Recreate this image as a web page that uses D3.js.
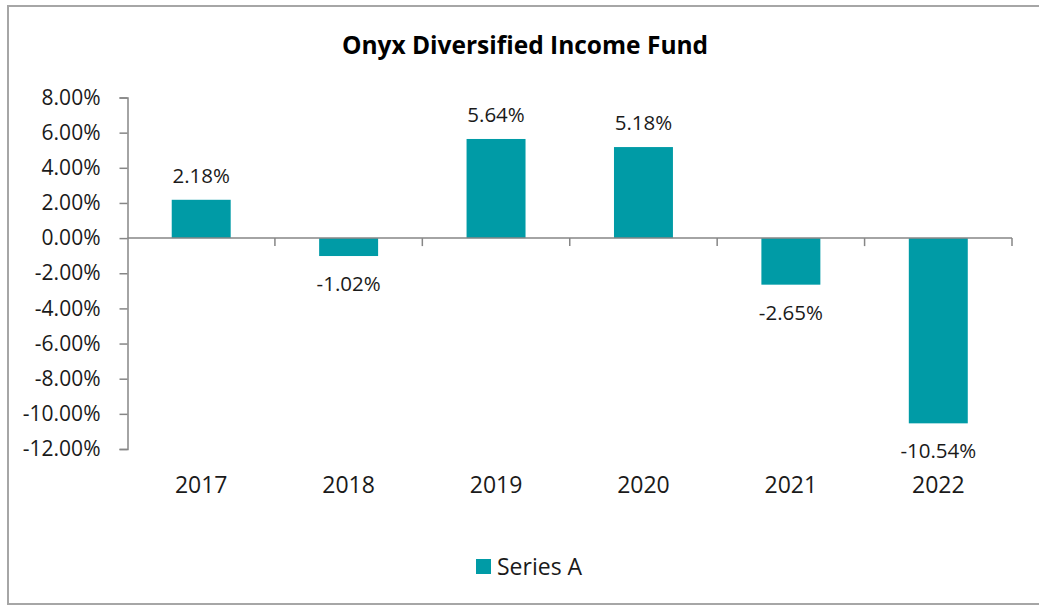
<!DOCTYPE html>
<html>
<head>
<meta charset="utf-8">
<script src="https://cdn.jsdelivr.net/npm/d3@7/dist/d3.min.js"></script>
<style>
  html, body { margin: 0; padding: 0; background: #fff; }
  svg { display: block; font-family: 'Open Sans', sans-serif; }
</style>
</head>
<body>
<svg id="chart" width="1039" height="606"></svg>
<script>
var title = 'Onyx Diversified Income Fund';
var seriesName = 'Series A';
var years = ['2017', '2018', '2019', '2020', '2021', '2022'];
var returns = [2.18, -1.02, 5.64, 5.18, -2.65, -10.54];
var yTicks = [8, 6, 4, 2, 0, -2, -4, -6, -8, -10, -12];

(function () {
  var svg = d3.select('#chart');
  var teal = '#009ba6';
  var axisColor = '#868686';
  var pct = function (d) { return d.toFixed(2) + '%'; };

  // outer frame (right edge runs off the picture)
  svg.append('rect')
    .attr('x', 8).attr('y', 6)
    .attr('width', 1040).attr('height', 598)
    .attr('fill', 'none')
    .attr('stroke', '#a6a6a6')
    .attr('stroke-width', 2);

  svg.append('text')
    .attr('x', 525).attr('y', 54)
    .attr('text-anchor', 'middle')
    .attr('font-weight', 'bold')
    .attr('font-size', 24.5)
    .attr('fill', '#000')
    .text(title);

  var x = d3.scaleBand().domain(years).range([127.5, 1012]).paddingInner(0).paddingOuter(0);
  var y = d3.scaleLinear().domain([-12, 8]).range([449, 97.5]);

  var g = svg.append('g');

  // bars
  g.append('g').selectAll('rect').data(returns).enter().append('rect')
    .attr('x', function (d, i) { return x(years[i]) + x.bandwidth() * 0.3; })
    .attr('width', x.bandwidth() * 0.4)
    .attr('y', function (d) { return y(Math.max(0, d)); })
    .attr('height', function (d) { return Math.abs(y(d) - y(0)); })
    .attr('fill', teal);

  // y axis
  var yAxis = d3.axisLeft(y).tickValues(yTicks).tickSize(8).tickPadding(19).tickFormat(pct);
  var ya = g.append('g').attr('transform', 'translate(127.5,0)').call(yAxis);
  ya.select('.domain').attr('stroke', axisColor).attr('stroke-width', 1.5);
  ya.selectAll('.tick line').attr('stroke', axisColor).attr('stroke-width', 1.5);
  ya.selectAll('.tick text').attr('font-size', 21).attr('fill', '#1a1a1a')
    .attr('font-family', 'Open Sans, sans-serif');

  // x axis at zero with ticks between categories
  var xa = g.append('g').attr('transform', 'translate(0,' + y(0) + ')');
  xa.append('line')
    .attr('x1', x.range()[0]).attr('x2', x.range()[1])
    .attr('stroke', axisColor).attr('stroke-width', 1.5);
  var bounds = years.map(function (d) { return x(d); }).concat([x.range()[1]]).slice(1);
  xa.selectAll('line.tk').data(bounds).enter().append('line')
    .attr('class', 'tk')
    .attr('x1', function (d) { return d; }).attr('x2', function (d) { return d; })
    .attr('y1', 0).attr('y2', 8)
    .attr('stroke', axisColor).attr('stroke-width', 1.5);

  // category labels below the plot
  g.append('g').selectAll('text').data(years).enter().append('text')
    .attr('x', function (d) { return x(d) + x.bandwidth() / 2; })
    .attr('y', 493)
    .attr('text-anchor', 'middle')
    .attr('font-size', 23)
    .attr('fill', '#1a1a1a')
    .text(function (d) { return d; });

  // data labels
  g.append('g').selectAll('text').data(returns).enter().append('text')
    .attr('x', function (d, i) { return x(years[i]) + x.bandwidth() / 2; })
    .attr('y', function (d) { return d >= 0 ? y(d) - 17 : y(d) + 35; })
    .attr('text-anchor', 'middle')
    .attr('font-size', 20.5)
    .attr('fill', '#1a1a1a')
    .text(pct);

  // legend
  var lg = svg.append('g');
  lg.append('rect').attr('x', 476).attr('y', 559).attr('width', 15).attr('height', 15).attr('fill', teal);
  lg.append('text').attr('x', 497).attr('y', 575)
    .attr('font-size', 23).attr('fill', '#1a1a1a').text(seriesName);
})();
</script>
</body>
</html>
